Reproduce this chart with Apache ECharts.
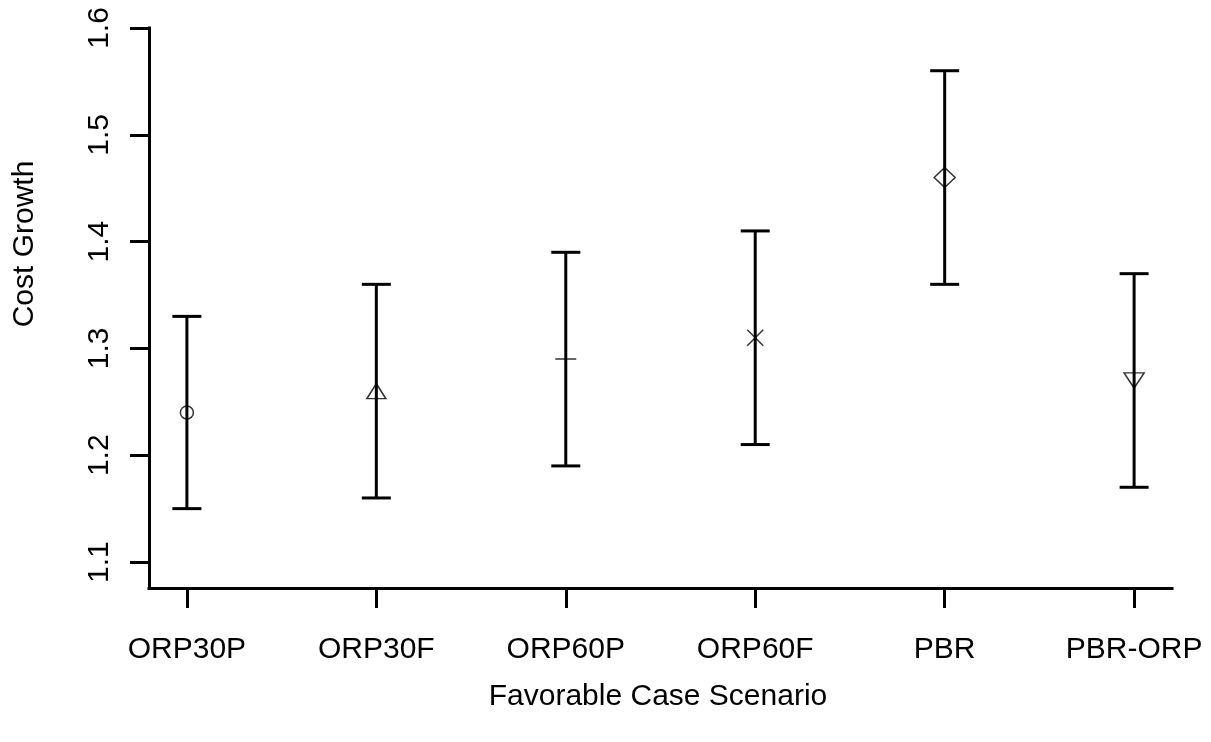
<!DOCTYPE html>
<html>
<head>
<meta charset="utf-8">
<title>Cost Growth by Favorable Case Scenario</title>
<script src="https://cdn.jsdelivr.net/npm/echarts@6/dist/echarts.min.js"></script>
<style>
  html, body { margin: 0; padding: 0; background: #fff; }
  #chart { width: 1211px; height: 742px; }
</style>
</head>
<body>
<div id="chart"></div>
<script>
// Scenario names along the x axis
const categories = ['ORP30P', 'ORP30F', 'ORP60P', 'ORP60F', 'PBR', 'PBR-ORP'];
// Point estimates and interval bounds for each scenario
const meanValues  = [1.24, 1.26, 1.29, 1.31, 1.46, 1.27];
const lowerValues = [1.15, 1.16, 1.19, 1.21, 1.36, 1.17];
const upperValues = [1.33, 1.36, 1.39, 1.41, 1.56, 1.37];
// Tick labels on the value axis
const yTickValues = [1.1, 1.2, 1.3, 1.4, 1.5, 1.6];
const xTickValues = [0, 1, 2, 3, 4, 5];

// Plotting symbol for each scenario
const markerShapes = [
  'circle',
  'triangle',
  'path://M0,5L10,5M5,0L5,10',
  'path://M0,0L10,10M10,0L0,10',
  'diamond',
  'path://M0,0L10,0L5,10Z'
];
const markerSizes = [[13, 13], [19, 15], [21, 21], [16, 16], [21, 20], [20, 15]];

const FONT = '"Liberation Sans", Arial, sans-serif';
const chart = echarts.init(document.getElementById('chart'), null, { renderer: 'canvas' });

const option = {
  animation: false,
  backgroundColor: '#ffffff',
  grid: { left: 149, right: 39, top: 28, bottom: 154, containLabel: false },
  xAxis: {
    type: 'value',
    min: -0.2,
    max: 5.2,
    axisLine: { show: true, onZero: false, lineStyle: { color: '#000', width: 3, cap: 'square' } },
    axisTick: { show: true, customValues: xTickValues, length: 20, lineStyle: { color: '#000', width: 3 } },
    axisLabel: {
      show: true,
      customValues: xTickValues,
      margin: 47,
      color: '#000',
      fontFamily: FONT,
      fontSize: 30,
      formatter: v => categories[Math.round(v)]
    },
    splitLine: { show: false }
  },
  yAxis: {
    type: 'value',
    min: 1.0757,
    max: 1.6,
    axisLine: { show: true, onZero: false, lineStyle: { color: '#000', width: 3, cap: 'square' } },
    axisTick: { show: true, customValues: yTickValues, length: 19, lineStyle: { color: '#000', width: 3 } },
    axisLabel: {
      show: true,
      customValues: yTickValues,
      rotate: 90,
      margin: 34,
      color: '#000',
      fontFamily: FONT,
      fontSize: 30,
      formatter: v => v.toFixed(1)
    },
    splitLine: { show: false }
  },
  graphic: [
    {
      type: 'text',
      x: 25,
      y: 244,
      rotation: Math.PI / 2,
      style: {
        text: 'Cost Growth',
        font: '30px ' + FONT,
        fill: '#000',
        textAlign: 'center',
        textVerticalAlign: 'middle'
      }
    },
    {
      type: 'text',
      x: 658,
      y: 697,
      style: {
        text: 'Favorable Case Scenario',
        font: '30px ' + FONT,
        fill: '#000',
        textAlign: 'center',
        textVerticalAlign: 'middle'
      }
    }
  ],
  series: [
    {
      // interval bars with end caps
      type: 'custom',
      data: categories.map((c, i) => [i, lowerValues[i], upperValues[i]]),
      renderItem: function (params, api) {
        const x = api.value(0);
        const lo = api.coord([x, api.value(1)]);
        const hi = api.coord([x, api.value(2)]);
        const hw = 14.5;
        const st = { stroke: '#000', lineWidth: 3 };
        return {
          type: 'group',
          children: [
            { type: 'line', shape: { x1: lo[0], y1: lo[1], x2: hi[0], y2: hi[1] }, style: st },
            { type: 'line', shape: { x1: hi[0] - hw, y1: hi[1], x2: hi[0] + hw, y2: hi[1] }, style: st },
            { type: 'line', shape: { x1: lo[0] - hw, y1: lo[1], x2: lo[0] + hw, y2: lo[1] }, style: st }
          ]
        };
      },
      z: 2
    },
    {
      // point estimates
      type: 'scatter',
      data: meanValues.map((v, i) => ({
        value: [i, v],
        symbol: markerShapes[i],
        symbolSize: markerSizes[i]
      })),
      itemStyle: { color: 'rgba(0,0,0,0)', borderColor: '#000', borderWidth: 1.5 },
      emphasis: { disabled: true },
      z: 3
    }
  ]
};

chart.setOption(option);
</script>
</body>
</html>
